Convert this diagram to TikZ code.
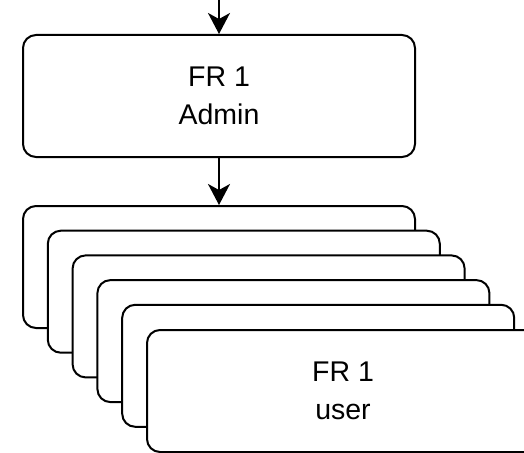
\documentclass[tikz,border=0pt]{standalone}
\usepackage{fontspec}
\setsansfont{Liberation Sans}
\usetikzlibrary{positioning,arrows.meta}

\begin{document}
\begin{tikzpicture}[x=1pt, y=-1pt, font=\sffamily\fontsize{28.5}{38}\selectfont,
    frbox/.style={draw, line width=2pt, fill=white, rounded corners=13pt, minimum width=392pt, minimum height=122pt, align=center},
    flow/.style={-{Stealth[length=21pt,width=22pt,inset=6pt]}, line width=2pt}]
  \clip (0,0) rectangle (524,452);
  \coordinate (in) at (219,0);
  \node[frbox] (admin) at (219,96) {FR 1\\Admin};
  \foreach \i in {0,...,4}{\node[frbox] (user\i) at (219+24.8*\i, 267+24.7*\i) {};}
  \node[frbox] (user5) at (343,391) {FR 1\\user};
  \draw[flow] (in) -- (admin);
  \draw[flow] (admin) -- (user0);
\end{tikzpicture}
\end{document}
